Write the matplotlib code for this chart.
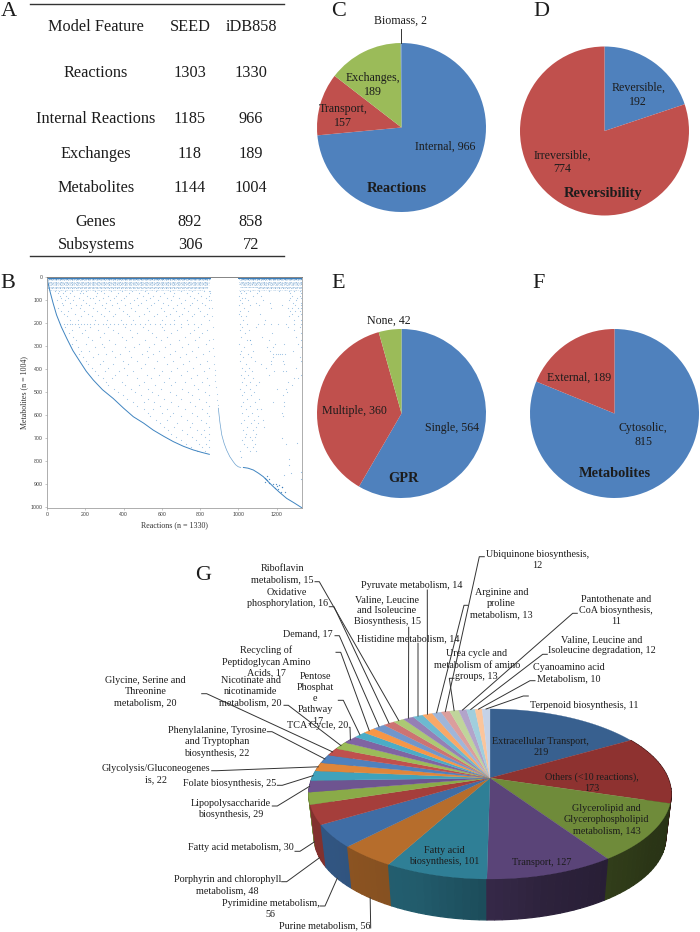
import numpy as np
import matplotlib
matplotlib.use("Agg")
import matplotlib.pyplot as plt

plt.rcParams['font.family'] = ['Liberation Serif', 'DejaVu Sans']
W, H = 700, 932
TXT = '#1c1c1c'

# ---------- A: table ----------
table_features = ['Model Feature', 'Reactions', 'Internal Reactions', 'Exchanges', 'Metabolites', 'Genes', 'Subsystems']
table_seed = ['SEED', '1303', '1185', '118', '1144', '892', '306']
table_idb = ['iDB858', '1330', '966', '189', '1004', '858', '72']
table_y = [27, 73, 119, 154, 188, 222, 245]

# ---------- C-F: pies ----------
c_labels = ['Internal', 'Transport', 'Exchanges', 'Biomass']
c_values = [966, 157, 189, 2]
d_labels = ['Reversible', 'Irreversible']
d_values = [192, 774]
e_labels = ['Single', 'Multiple', 'None']
e_values = [564, 360, 42]
f_labels = ['Cytosolic', 'External']
f_values = [815, 189]
pie_colors = ['#4F81BD', '#C0504D', '#9BBB59']

# ---------- G: subsystem pie ----------
g_values = [219, 173, 143, 127, 101, 56, 56, 48, 30, 29, 25, 22, 22, 20, 20, 20, 17, 17, 17, 16,
            15, 15, 14, 14, 13, 12, 13, 11, 12, 10, 11]
g_texts = ['Extracellular Transport,\n219', 'Others (<10 reactions),\n173',
           'Glycerolipid and\nGlycerophospholipid\nmetabolism, 143', 'Transport, 127',
           'Fatty acid\nbiosynthesis, 101', 'Purine metabolism, 56', 'Pyrimidine metabolism,\n56',
           'Porphyrin and chlorophyll\nmetabolism, 48', 'Fatty acid metabolism, 30',
           'Lipopolysaccharide\nbiosynthesis, 29', 'Folate biosynthesis, 25',
           'Glycolysis/Gluconeogenes\nis, 22', 'Phenylalanine, Tyrosine\nand Tryptophan\nbiosynthesis, 22',
           'Glycine, Serine and\nThreonine\nmetabolism, 20', 'Nicotinate and\nnicotinamide\nmetabolism, 20',
           'TCA Cycle, 20', 'Pentose\nPhosphat\ne\nPathway\n, 17', 'Recycling of\nPeptidoglycan Amino\nAcids, 17',
           'Demand, 17', 'Oxidative\nphosphorylation, 16', 'Riboflavin\nmetabolism, 15',
           'Valine, Leucine\nand Isoleucine\nBiosynthesis, 15', 'Histidine metabolism, 14',
           'Pyruvate metabolism, 14', 'Arginine and\nproline\nmetabolism, 13', 'Ubiquinone biosynthesis,\n12',
           'Urea cycle and\nmetabolism of amino\ngroups, 13', 'Pantothenate and\nCoA biosynthesis,\n11',
           'Valine, Leucine and\nIsoleucine degradation, 12', 'Cyanoamino acid\nMetabolism, 10',
           'Terpenoid biosynthesis, 11']
g_colors = ['#38608F', '#8E3230', '#6F8B3A', '#5A4478', '#2F7F96', '#B66D2C',
            '#3F6DA5', '#A53E3B', '#8AAB48', '#6E5490', '#3FA2BC', '#E0863A',
            '#4F81BD', '#C0504D', '#9BBB59', '#8064A2', '#4BACC6', '#F79646',
            '#7096CB', '#CD7372', '#ACC974', '#9580B5', '#6DB9D0', '#F9A868',
            '#9FB6DA', '#DB9E9D', '#C0D59B', '#B2A4CA', '#A0CEDD', '#FBC59C', '#C5D2E7']
# label centre x, y, leader start x, y, elbow x (None: no leader)
g_layout = [
    (540.7, 746.7, None, None, None), (591.7, 782.3, None, None, None), (606.7, 819.3, None, None, None),
    (541.7, 862.3, None, None, None), (444, 856, None, None, None),
    (325, 925.7, 370.7, 928, 370.7), (270.7, 908.7, 320, 906, 325), (227.3, 885.3, 281.7, 881.7, 286.7),
    (241, 848, 295, 851.3, 300), (230.7, 809.3, 272.3, 806, 277.3), (229.3, 783.7, 277.3, 785.3, 282.3),
    (156, 774.3, 211.7, 770.7, 216.7), (216.7, 742, 267.3, 731.7, 272), (145.7, 691.7, 201.7, 693.7, 206.7),
    (250.7, 692, 284, 705.3, 288.3), (317.7, 725, 349.3, 727.3, 350), (315.3, 698.3, 338.3, 700.3, 343.3),
    (266, 661.7, 336, 652.3, 340.7), (308.3, 633.3, 335, 635.7, 339.3), (287.3, 598, 329.3, 606.7, 334),
    (282.7, 574, 315, 581.7, 319.3), (387, 610.7, 408.7, 627.3, 408.7), (408.3, 638.3, 418, 643.3, 418),
    (411.7, 585, 427.3, 590, 427.3), (501.7, 603.3, 467.7, 605.3, 464), (537.7, 560, 484.3, 556.7, 479.3),
    (476.7, 665, 454, 678.3, 449.3), (615.7, 610.3, 577.3, 613.3, 572.7), (601.7, 645.3, 547.3, 654.3, 542.7),
    (569, 673.3, 535, 680.7, 530), (584.3, 705.7, 528.3, 696, 523.3)]

# ---------- B: stoichiometric matrix ----------
spy_tick_x = [0, 200, 400, 600, 800, 1000, 1200]
spy_tick_y = [0, 100, 200, 300, 400, 500, 600, 700, 800, 900, 1000]
curve1_x = [0, 5, 16, 32, 50, 75, 103, 135, 172, 205, 242, 290, 346, 400, 451, 505, 555, 610, 660, 712, 764, 810, 848]
curve1_y = [0, 25, 65, 115, 166, 218, 267, 320, 368, 410, 448, 490, 528, 570, 607, 635, 665, 692, 715, 735, 751, 762, 770]
curve2_x = [895, 903, 913, 925, 938, 955, 973, 985, 999, 1012]
curve2_y = [570, 630, 686, 722, 751, 780, 802, 815, 824, 827]
curve3_x = [1026, 1050, 1078, 1105, 1130, 1155, 1182, 1215, 1252, 1290, 1330]
curve3_y = [827, 830, 838, 852, 867, 888, 910, 935, 961, 980, 1001]
faint2_x = [852, 858, 860, 862, 865, 868, 869, 870, 872, 875, 878, 880, 883, 886, 889, 892]
faint2_y = [60, 100, 137, 170, 220, 270, 311, 345, 378, 405, 426, 450, 480, 510, 535, 555]
branch_x = [1139, 1160, 1180, 1200, 1225, 1140, 1150, 1158, 1150, 1142, 1190, 1205, 1222, 1245, 1195, 1210, 1230]
branch_y = [889, 893, 900, 907, 912, 872, 866, 875, 882, 878, 915, 922, 934, 934, 897, 903, 912]
band_y = [4, 5, 8, 11, 16, 21, 27, 33, 38, 44, 51, 56]
band_alpha = [0.9, 0.9, 0.7, 0.45, 0.4, 0.55, 0.4, 0.55, 0.4, 0.45, 0.6, 0.3]
band_left_end = [850, 850, 850, 850, 845, 845, 845, 840, 845, 840, 835, 820]
band_right_start = [1000, 1000, 1005, 1020, 1010, 1005, 1010, 1005, 1015, 1010, 1100, 1005]
row_y = [62, 72, 82, 92, 102, 112, 124, 136, 148, 160, 172, 186, 205, 218, 232, 246, 260, 275, 290, 305, 320, 335,
         350, 365, 380, 395, 410, 425, 440, 455, 470, 485, 500, 515, 530, 545, 560, 575, 590, 605, 620, 635, 650,
         665, 680, 695, 710, 725, 740, 755]
row_x = [
    [40, 62, 95, 130, 175, 205, 250, 280, 335, 390, 445, 510, 570, 640, 700, 760, 820, 848, 1010, 1030, 1060, 1110, 1160, 1210, 1265, 1290, 1320],
    [55, 85, 120, 170, 190, 262, 300, 372, 430, 480, 530, 610, 665, 730, 790, 850, 1015, 1040, 1095, 1270, 1325],
    [68, 100, 140, 210, 255, 318, 360, 415, 500, 555, 590, 660, 745, 805, 846, 1005, 1075, 1120, 1280, 1320],
    [75, 110, 165, 225, 240, 295, 348, 400, 470, 540, 625, 690, 770, 830, 1018, 1035, 1270, 1305, 1325],
    [50, 92, 135, 190, 270, 330, 385, 455, 515, 580, 650, 720, 785, 848, 1008, 1050, 1128, 1265, 1300],
    [80, 118, 205, 250, 310, 365, 435, 490, 560, 605, 700, 755, 810, 1020, 1090, 1165, 1285, 1328],
    [85, 150, 180, 222, 285, 342, 410, 475, 545, 630, 680, 745, 825, 1002, 1062, 1110, 1230, 1295, 1325],
    [60, 125, 170, 240, 305, 378, 440, 520, 595, 660, 715, 790, 848, 1030, 1170, 1260, 1280, 1310, 1328],
    [72, 110, 195, 260, 325, 395, 460, 535, 610, 672, 735, 800, 1010, 1048, 1270, 1298, 1320],
    [90, 148, 215, 280, 355, 420, 505, 575, 640, 705, 770, 835, 1005, 1115, 1278, 1326],
    [105, 175, 235, 300, 345, 430, 480, 560, 620, 690, 760, 820, 1015, 1040, 1265, 1310],
    [120, 160, 250, 315, 385, 450, 530, 600, 665, 730, 845, 1025, 1140, 1288, 1328],
    [70, 88, 105, 120, 132, 145, 160, 178, 195, 208, 225, 245, 268, 290, 310, 330, 350, 372, 395, 415, 440, 462, 488, 512, 540, 565, 590, 615, 640, 665, 700, 735, 770, 805, 1010, 1045, 1100, 1135, 1170, 1205, 1250, 1290, 1326],
    [95, 165, 225, 320, 410, 500, 600, 700, 790, 1020, 1090, 1260, 1320],
    [130, 200, 265, 345, 435, 525, 610, 680, 770, 835, 1008, 1055, 1290],
    [115, 185, 300, 370, 470, 550, 650, 745, 810, 1035, 1175, 1325],
    [135, 215, 275, 390, 445, 570, 625, 720, 795, 1015, 1125, 1300],
    [150, 235, 325, 415, 510, 595, 690, 775, 848, 1045, 1058, 1062, 1160, 1328],
    [128, 205, 285, 355, 480, 560, 645, 735, 830, 1005, 1065, 1190, 1240, 1310],
    [160, 250, 300, 405, 455, 535, 615, 705, 790, 1030, 1150, 1180, 1325],
    [175, 222, 340, 430, 520, 585, 670, 760, 845, 1015, 1075, 1165, 1285],
    [165, 265, 310, 380, 495, 555, 640, 725, 815, 1008, 1050, 1180, 1195, 1205, 1215, 1230, 1245],
    [190, 240, 355, 440, 530, 610, 695, 780, 1025, 1065, 1178, 1320],
    [205, 290, 395, 470, 575, 660, 740, 835, 1010, 1085, 1170, 1235, 1326],
    [215, 275, 345, 425, 510, 625, 710, 800, 1040, 1120, 1170, 1240],
    [235, 320, 400, 490, 560, 680, 765, 848, 1018, 1055, 1145, 1300],
    [250, 305, 375, 450, 600, 650, 730, 820, 1035, 1072, 1185, 1235, 1250],
    [265, 355, 420, 520, 585, 700, 785, 1012, 1048, 1160, 1325],
    [290, 340, 470, 545, 635, 750, 835, 1028, 1075, 1290, 1310],
    [310, 390, 505, 610, 670, 720, 810, 1020, 1060, 1105, 1260],
    [320, 410, 480, 565, 650, 770, 845, 1040, 1090, 1280],
    [350, 440, 530, 595, 705, 790, 1010, 1058, 1200, 1250],
    [370, 460, 550, 640, 735, 825, 1030, 1080, 1255],
    [395, 490, 580, 675, 760, 848, 1018, 1068, 1235],
    [420, 525, 610, 700, 795, 1045, 1110],
    [450, 505, 560, 650, 745, 830, 1025, 1085, 1180, 1240],
    [470, 590, 685, 775, 845, 1012, 1060, 1240],
    [505, 555, 625, 720, 810, 1040, 1095, 1120],
    [525, 600, 660, 755, 835, 1020, 1070, 1230],
    [540, 640, 700, 785, 848, 1050, 1100, 1235],
    [570, 625, 730, 805, 1030, 1080, 1130],
    [590, 680, 760, 830, 1015, 1065, 1100],
    [610, 665, 745, 845, 1045, 1090, 1135],
    [630, 705, 785, 820, 1025, 1075],
    [650, 730, 805, 848, 1040, 1090],
    [675, 755, 825, 1035, 1060, 1085],
    [700, 780, 845, 1020, 1070],
    [725, 795, 830, 1030, 1085, 1250],
    [750, 810, 848, 1045, 1075],
    [785, 825, 1010, 1060, 1090]]
col_x = [1328, 1328, 1265, 1265, 1275, 1240, 1225, 1015, 1305]
col_y = [845, 875, 790, 815, 850, 860, 700, 780, 720]

fig = plt.figure(figsize=(W / 100, H / 100), dpi=100, facecolor='white')


def px_axes(x0, y0, x1, y1, **kw):
    return fig.add_axes([x0 / W, 1 - y1 / H, (x1 - x0) / W, (y1 - y0) / H], **kw)


ov = px_axes(0, 0, W, H)
ov.set_xlim(0, W)
ov.set_ylim(H, 0)
ov.axis('off')
ov.set_zorder(5)
ov.patch.set_alpha(0)


def T(x, y, s, size=8.6, **kw):
    ov.text(x, y, s, fontsize=size, ha='center', va='center', color=TXT, **kw)


# panel letters
for s, x, y in [('A', 9, 11), ('B', 8, 283), ('C', 339, 11), ('D', 541.7, 11), ('E', 338, 284), ('F', 539, 284), ('G', 202.7, 575)]:
    T(x, y, s, size=16)

# table
ov.plot([30, 284], [4, 4], color='#333333', lw=1)
ov.plot([30, 284], [256, 256], color='#333333', lw=1)
for a, b, c, y in zip(table_features, table_seed, table_idb, table_y):
    T(96, y, a, size=11.7)
    T(190, y, b, size=11.7)
    T(251, y, c, size=11.7)


# plain pies
def pie(cx, cy, values):
    r = 84.5
    ax = px_axes(cx - r, cy - r, cx + r, cy + r)
    ax.pie(values, colors=pie_colors, startangle=90, counterclock=False, radius=1, wedgeprops={'lw': 0})
    ax.set_xlim(-1, 1)
    ax.set_ylim(-1, 1)
    ax.set_aspect('auto')


pie(401.5, 127.5, c_values)
pie(604.5, 131, d_values)
pie(401.5, 413.5, e_values)
pie(614.5, 413.5, f_values)

LS = 1.22
T(401, 21, f'{c_labels[3]}, {c_values[3]}')
ov.plot([401, 401], [29, 43], color='#333333', lw=0.7)
T(372.7, 85, f'{c_labels[2]},\n{c_values[2]}', linespacing=LS)
T(342.7, 116, f'{c_labels[1]},\n{c_values[1]}', linespacing=LS)
T(445, 147, f'{c_labels[0]}, {c_values[0]}')
T(396.7, 188, 'Reactions', size=10.4, fontweight='bold')
T(638.3, 95, f'{d_labels[0]},\n{d_values[0]}', linespacing=LS)
T(562.3, 162.3, f'{d_labels[1]},\n{d_values[1]}', linespacing=LS)
T(603.3, 193.3, 'Reversibility', size=10.4, fontweight='bold')
T(389.3, 320.3, f'{e_labels[2]}, {e_values[2]}')
T(354.3, 411, f'{e_labels[1]}, {e_values[1]}')
T(452, 427.7, f'{e_labels[0]}, {e_values[0]}')
T(403.3, 478.3, 'GPR', size=10.4, fontweight='bold')
T(578.7, 377.3, f'{f_labels[1]}, {f_values[1]}')
T(643.3, 435, f'{f_labels[0]},\n{f_values[0]}', linespacing=LS)
T(615, 473.3, 'Metabolites', size=10.4, fontweight='bold')

# spy plot
sp = px_axes(47, 276.7, 301.6, 508.3)
sp.set_xlim(0, 1330)
sp.set_ylim(1004, 0)
sp.set_xticks(spy_tick_x)
sp.set_yticks(spy_tick_y)
sp.tick_params(labelsize=3.8, length=1.5, width=0.4, color='#999999', labelcolor='#444444', pad=1.5)
for lab in sp.get_xticklabels() + sp.get_yticklabels():
    lab.set_fontfamily('Liberation Sans')
for s in sp.spines.values():
    s.set_color('#a0a0a0')
    s.set_linewidth(0.6)
sp.spines['top'].set_color('#707070')
sp.set_xlabel('Reactions (n = 1330)', fontsize=5.8, color='#333333', labelpad=3)
sp.set_ylabel('Metabolites (n = 1004)', fontsize=5.8, color='#333333', labelpad=2)
BL = '#2E75B6'
DOT = '#4F92CC'
dashes = [(0, (0.8, 0.5, 2.2, 0.9)), (0, (1.5, 1.1, 0.6, 1.7)), (0, (0.7, 1.4, 0.7, 0.6, 1.8, 1.2))]
for k, (y, a, xe, xs) in enumerate(zip(band_y, band_alpha, band_left_end, band_right_start)):
    ls = '-' if a >= 0.8 else dashes[k % 3]
    sp.plot([0, xe], [y, y], color=BL, lw=0.6, alpha=a, ls=ls)
    sp.plot([xs, 1330], [y, y], color=BL, lw=0.6, alpha=a, ls=ls)
xs_ = [x for r in row_x for x in r]
ys_ = [y for y, r in zip(row_y, row_x) for _ in r]
dots_kw = dict(marker='o', linewidths=0, color=DOT)
sp.scatter(xs_, ys_, s=0.7, alpha=0.55, **dots_kw).set_snap(False)
sp.scatter(col_x, col_y, s=0.7, alpha=0.6, **dots_kw).set_snap(False)
sp.plot(curve1_x, curve1_y, color='#3F84C0', lw=0.7)
sp.plot(curve2_x, curve2_y, color='#3F84C0', lw=0.5, alpha=0.75)
sp.plot(curve3_x, curve3_y, color='#3F84C0', lw=0.7)
sp.scatter(faint2_x, faint2_y, s=0.6, alpha=0.5, **dots_kw).set_snap(False)
sp.scatter(branch_x, branch_y, s=0.9, alpha=0.8, marker='o', linewidths=0, color=BL).set_snap(False)

# perspective 3-D pie, drawn on the overlay (pixel scale)
CX, CY, RX, RY, K, BS, BD = 490.0, 778.0, 178.0, 82.0, 0.188, 0.97, 44.0


def top_pt(t):
    t = np.radians(t)
    u, v = np.sin(t), np.cos(t)
    s = 1 / (1 + K * v)
    return CX + RX * u * s, CY - RY * v * s


def bot_pt(t):
    x, y = top_pt(t)
    return CX + (x - CX) * BS, CY + (y - CY) * BS + BD


vals = np.array(g_values, float)
edges = np.concatenate([[0], np.cumsum(vals)]) / vals.sum() * 360


def darken(c, f):
    return tuple(np.array(matplotlib.colors.to_rgb(c)) * f)


segs = []
for i, c in enumerate(g_colors):
    a, b = edges[i], edges[i + 1]
    n = max(2, int((b - a) / 2) + 1)
    grid = np.linspace(a, b, n)
    for t0, t1 in zip(grid[:-1], grid[1:]):
        if 60 < t1 and t0 < 300:
            segs.append((t0, t1, c))
segs.sort(key=lambda q: -abs((q[0] + q[1]) / 2 - 180))
for t0, t1, c in segs:
    f = np.interp((t0 + t1) / 2, [90, 125, 165, 200, 230, 270], [0.35, 0.38, 0.5, 0.72, 0.78, 0.8])
    xa, ya = top_pt(t0)
    xb, yb = top_pt(t1)
    xc, yc = bot_pt(t1)
    xd, yd = bot_pt(t0)
    col = darken(c, f)
    ov.fill([xa, xb, xc, xd], [ya, yb, yc, yd], facecolor=col, edgecolor=col, lw=0.9, zorder=1)
for i, c in enumerate(g_colors):
    ts = np.linspace(edges[i], edges[i + 1], max(3, int(edges[i + 1] - edges[i]) + 2))
    pts = [top_pt(t) for t in ts]
    ov.fill([CX] + [p[0] for p in pts], [CY] + [p[1] for p in pts], color=c, lw=0.2, zorder=2)

for i, (txt, lay) in enumerate(zip(g_texts, g_layout)):
    tx, ty, sx, sy, ex = lay
    ov.text(tx, ty, txt, fontsize=7.3, ha='center', va='center', color=TXT, linespacing=1.3, zorder=4)
    if sx is not None:
        mid = (edges[i] + edges[i + 1]) / 2
        px, py = bot_pt(mid) if 90 < mid < 260 else top_pt(mid)
        ov.plot([sx, ex, px], [sy, sy, py], color='#333333', lw=0.7, zorder=3)

fig.savefig('out.png', dpi=100, facecolor='white')
